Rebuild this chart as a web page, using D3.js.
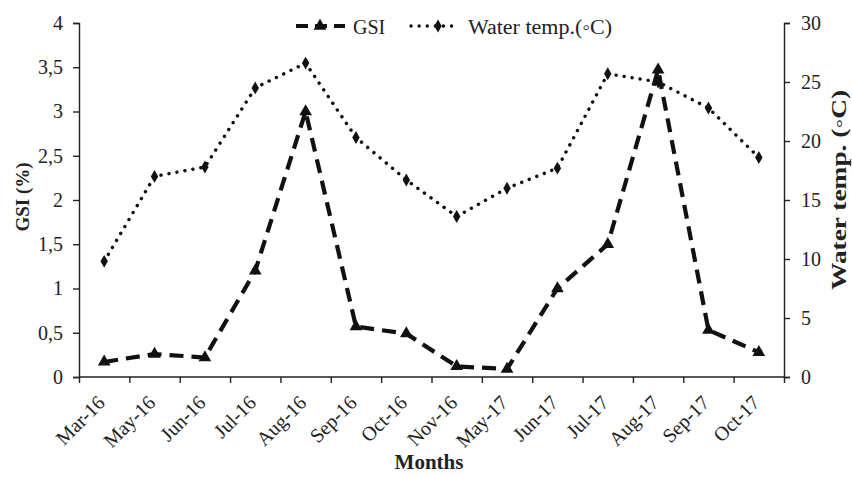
<!DOCTYPE html>
<html>
<head>
<meta charset="utf-8">
<script src="https://cdn.jsdelivr.net/npm/d3@7"></script>
<style>
  html, body { margin: 0; padding: 0; background: #fff; }
  svg { display: block; }
  text { font-family: "Liberation Serif", "Times New Roman", serif; fill: #222; }
</style>
</head>
<body>
<svg id="chart" width="852" height="477"></svg>
<script>
// Sampling months
const months = ["Mar-16", "May-16", "Jun-16", "Jul-16", "Aug-16", "Sep-16", "Oct-16",
                "Nov-16", "May-17", "Jun-17", "Jul-17", "Aug-17", "Sep-17", "Oct-17"];
// Gonadosomatic index (%)
const gsi = [0.17, 0.26, 0.22, 1.2, 3.0, 0.57, 0.49, 0.12, 0.09, 1.0, 1.5, 3.47, 0.53, 0.28];
// Water temperature (°C)
const waterTemp = [9.8, 17.0, 17.8, 24.5, 26.6, 20.3, 16.7, 13.6, 16.0, 17.7, 25.7, 25.0, 22.8, 18.6];
// Axis ticks
const gsiTicks = [0, 0.5, 1, 1.5, 2, 2.5, 3, 3.5, 4];
const tempTicks = [0, 5, 10, 15, 20, 25, 30];

const svg = d3.select("#chart");
const plotL = 79, plotR = 784, plotT = 23, plotB = 377;

const x = d3.scaleBand().domain(months).range([plotL, plotR]);
const yL = d3.scaleLinear().domain([0, 4]).range([plotB, plotT]);
const yR = d3.scaleLinear().domain([0, 30]).range([plotB, plotT]);
const cx = m => x(m) + x.bandwidth() / 2;

const fmtComma = d => String(d).replace(".", ",");

// Left axis
const axL = svg.append("g").attr("transform", `translate(${plotL},0)`)
  .call(d3.axisLeft(yL).tickValues(gsiTicks).tickFormat(fmtComma).tickSize(6).tickPadding(10));
// Right axis
const axR = svg.append("g").attr("transform", `translate(${plotR},0)`)
  .call(d3.axisRight(yR).tickValues(tempTicks).tickSize(6).tickPadding(11));
// Bottom axis, ticks at band edges
const edges = months.map(m => x(m)).concat([plotR]);
const axB = svg.append("g").attr("transform", `translate(0,${plotB})`)
  .call(d3.axisBottom(d3.scaleLinear().domain([plotL, plotR]).range([plotL, plotR]))
    .tickValues(edges).tickFormat("").tickSize(6));

[axL, axR, axB].forEach(g => {
  g.select(".domain").attr("stroke", "#222").attr("stroke-width", 1.4);
  g.selectAll(".tick line").attr("stroke", "#222").attr("stroke-width", 1.4);
  g.selectAll(".tick text").attr("font-family", "Liberation Serif").attr("font-size", 20).attr("fill", "#222");
});
axB.select(".domain").attr("d", `M${plotL},0H${plotR}`);

// Rotated month labels
svg.append("g").selectAll("text").data(months).join("text")
  .attr("transform", m => `translate(${cx(m) + 2},${plotB + 27}) rotate(-45)`)
  .attr("text-anchor", "end")
  .attr("font-size", 20)
  .text(m => m);

// Axis titles
svg.append("text")
  .attr("transform", `translate(29,197) rotate(-90)`)
  .attr("text-anchor", "middle").attr("font-weight", "bold").attr("font-size", 19)
  .text("GSI (%)");
svg.append("text")
  .attr("transform", `translate(846,190) rotate(-90)`)
  .attr("text-anchor", "middle").attr("font-weight", "bold").attr("font-size", 21)
  .attr("textLength", 200).attr("lengthAdjust", "spacingAndGlyphs")
  .text("Water temp. (◦C)");
svg.append("text")
  .attr("x", 429).attr("y", 469)
  .attr("text-anchor", "middle").attr("font-weight", "bold").attr("font-size", 21)
  .text("Months");

// Water temperature: dotted line with diamonds
const tempLine = d3.line().x((d, i) => cx(months[i])).y(d => yR(d));
svg.append("path").datum(waterTemp)
  .attr("d", tempLine).attr("fill", "none").attr("stroke", "#111")
  .attr("stroke-width", 3.4).attr("stroke-linecap", "round").attr("stroke-dasharray", "0.1 8");
const diamond = d3.symbol().type(d3.symbolDiamond).size(48);
svg.append("g").selectAll("path").data(waterTemp).join("path")
  .attr("d", diamond)
  .attr("transform", (d, i) => `translate(${cx(months[i])},${yR(d)})`)
  .attr("fill", "#111");

// GSI: dashed line with triangles
const gsiLine = d3.line().x((d, i) => cx(months[i])).y(d => yL(d));
svg.append("path").datum(gsi)
  .attr("d", gsiLine).attr("fill", "none").attr("stroke", "#111")
  .attr("stroke-width", 4.2).attr("stroke-dasharray", "14 8");
const tri = d3.symbol().type(d3.symbolTriangle).size(70);
svg.append("g").selectAll("path").data(gsi).join("path")
  .attr("d", tri)
  .attr("transform", (d, i) => `translate(${cx(months[i])},${yL(d)})`)
  .attr("fill", "#111");

// Legend
const lg = svg.append("g").attr("transform", "translate(0,26)");
lg.append("line").attr("x1", 296).attr("x2", 345).attr("y1", 0).attr("y2", 0)
  .attr("stroke", "#111").attr("stroke-width", 4.2).attr("stroke-dasharray", "12 7");
lg.append("path").attr("d", tri).attr("transform", "translate(320,0)").attr("fill", "#111");
lg.append("text").attr("x", 353).attr("y", 8).attr("font-size", 20).text("GSI");
lg.append("line").attr("x1", 411).attr("x2", 459).attr("y1", 0).attr("y2", 0)
  .attr("stroke", "#111").attr("stroke-width", 3.4).attr("stroke-linecap", "round")
  .attr("stroke-dasharray", "0.1 8");
lg.append("path").attr("d", diamond).attr("transform", "translate(438,0)").attr("fill", "#111");
lg.append("text").attr("x", 468).attr("y", 8).attr("font-size", 20)
  .attr("textLength", 144).attr("lengthAdjust", "spacingAndGlyphs")
  .text("Water temp.(◦C)");
</script>
</body>
</html>
